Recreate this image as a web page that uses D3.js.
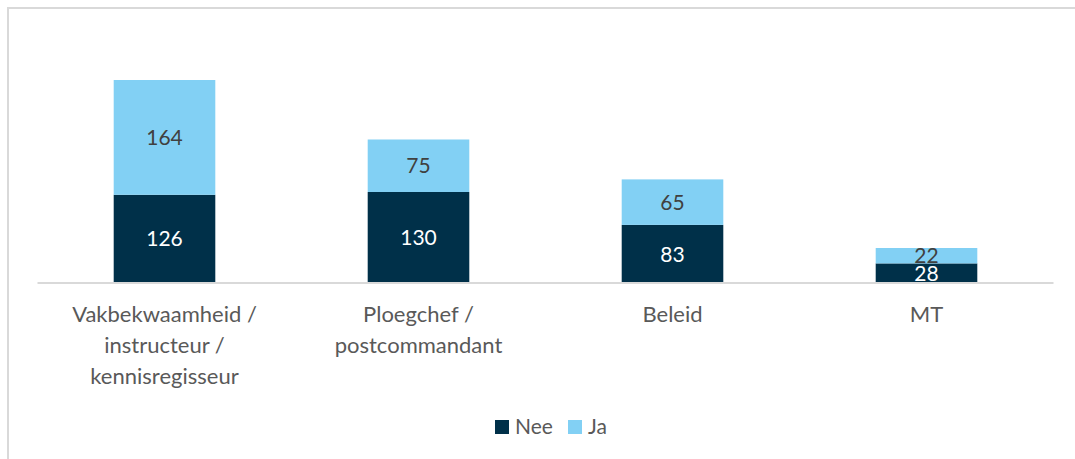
<!DOCTYPE html>
<html>
<head>
<meta charset="utf-8">
<script src="https://cdn.jsdelivr.net/npm/d3@7"></script>
<style>
  html, body { margin: 0; padding: 0; background: #fff; }
  svg { display: block; font-family: Lato, "Open Sans", sans-serif; }
</style>
</head>
<body>
<svg id="chart" width="1075" height="459"></svg>
<script>
// Functie-categorieën (labelregels gescheiden door \n)
const categories = [
  "Vakbekwaamheid /\ninstructeur /\nkennisregisseur",
  "Ploegchef /\npostcommandant",
  "Beleid",
  "MT"
];
const seriesNames = ["Nee", "Ja"];
const neeValues = [126, 130, 83, 28];
const jaValues = [164, 75, 65, 22];
const colors = ["#003049", "#82d0f4"];
const labelColors = ["#ffffff", "#404040"];

const svg = d3.select("#chart");
const W = 1075, H = 459;

// Chart frame
svg.append("rect")
  .attr("x", 8).attr("y", 8)
  .attr("width", W + 20).attr("height", H + 20)
  .attr("fill", "#fff").attr("stroke", "#d9d9d9").attr("stroke-width", 2);

const plot = { left: 37.5, right: 1053.5, top: 30, bottom: 283 };

const x = d3.scaleBand()
  .domain(categories)
  .range([plot.left, plot.right])
  .paddingInner(0.6)
  .paddingOuter(0.3);

const y = d3.scaleLinear()
  .domain([0, 360])
  .range([plot.bottom, plot.bottom - 360 * 0.7]);

const table = categories.map((c, i) => ({ cat: c, Nee: neeValues[i], Ja: jaValues[i] }));
const stacked = d3.stack().keys(seriesNames)(table);

const layers = svg.append("g").selectAll("g")
  .data(stacked).join("g")
  .attr("fill", (d, i) => colors[i]);

layers.selectAll("rect")
  .data(d => d).join("rect")
  .attr("x", d => x(d.data.cat))
  .attr("width", x.bandwidth())
  .attr("y", d => y(d[1]))
  .attr("height", d => y(d[0]) - y(d[1]));

// Waardelabels in het midden van elk segment
stacked.forEach((layer, li) => {
  svg.append("g").selectAll("text")
    .data(layer).join("text")
    .attr("x", d => x(d.data.cat) + x.bandwidth() / 2)
    .attr("y", d => (y(d[0]) + y(d[1])) / 2)
    .attr("dy", "0.36em")
    .attr("text-anchor", "middle")
    .attr("font-size", 21)
    .attr("fill", labelColors[li])
    .text(d => d[1] - d[0]);
});

// Horizontale as
const axis = svg.append("g")
  .attr("transform", `translate(0,${plot.bottom})`)
  .call(d3.axisBottom(x).tickSize(0).tickFormat(""));
axis.select(".domain").attr("stroke", "#d9d9d9").attr("stroke-width", 2)
  .attr("d", `M${plot.left},0H${plot.right}`);

// Categorie-labels over meerdere regels
const catLabels = svg.append("g").selectAll("text")
  .data(categories).join("text")
  .attr("x", d => x(d) + x.bandwidth() / 2)
  .attr("y", 322)
  .attr("text-anchor", "middle")
  .attr("font-size", 22)
  .attr("fill", "#595959");
catLabels.each(function(d) {
  const t = d3.select(this);
  d.split("\n").forEach((line, i) => {
    t.append("tspan")
      .attr("x", x(d) + x.bandwidth() / 2)
      .attr("dy", i === 0 ? 0 : 31)
      .text(line);
  });
});

// Legenda
const legendItems = [
  { name: "Nee", color: colors[0], x: 495 },
  { name: "Ja", color: colors[1], x: 568 }
];
const legend = svg.append("g").selectAll("g")
  .data(legendItems).join("g")
  .attr("transform", d => `translate(${d.x},420)`);
legend.append("rect")
  .attr("width", 14).attr("height", 14)
  .attr("fill", d => d.color);
legend.append("text")
  .attr("x", 20).attr("y", 14)
  .attr("font-size", 21)
  .attr("fill", "#595959")
  .text(d => d.name);
</script>
</body>
</html>
